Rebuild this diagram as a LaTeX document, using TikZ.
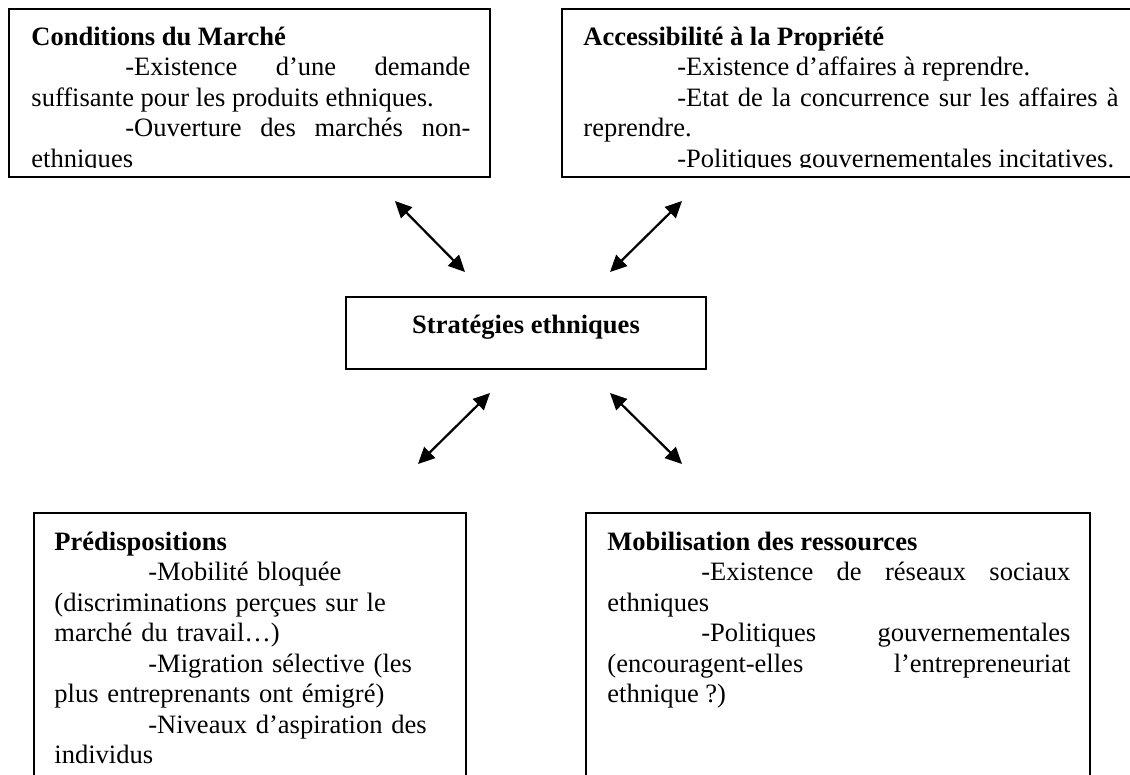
\documentclass[tikz,border=0pt]{standalone}
\usepackage{fontspec}
\setmainfont{Liberation Serif}
\usetikzlibrary{arrows.meta}
\hyphenpenalty=10000
\tolerance=9999
\hbadness=10000
\newcommand{\tabin}{\hspace*{42.5pt}}

\tikzset{
  boxframe/.style={draw, line width=0.8pt},
  txt/.style={anchor=north west, inner sep=0pt, align=justify,
    font=\fontsize{12}{13.8}\selectfont},
  link/.style={{Triangle[length=7.5pt,width=7pt]}-{Triangle[length=7.5pt,width=7pt]},
    line width=1pt}
}

\begin{document}
\begin{tikzpicture}[x=0.4525pt, y=-0.4525pt]
  \useasboundingbox (0,0) rectangle (1130,774);
  \clip (0,0) rectangle (1130,774);
  \fill[white] (0,0) rectangle (1130,774);

  % upper frames, their last line is cut by the text area
  \draw[boxframe] (9,9) rectangle (490,177);
  \begin{scope}
    \clip (9,9) rectangle (490,167);
    \node[txt, text width=198.6pt] (market) at (31,23.65) {\strut\textbf{Conditions du Marché}\par
      \tabin-Existence d’une demande\linebreak suffisante pour les produits ethniques.\par
      \tabin-Ouverture des marchés non-\linebreak ethniques};
  \end{scope}

  \draw[boxframe] (562,9) rectangle (1150,177);
  \begin{scope}
    \clip (562,9) rectangle (1150,167);
    \node[txt, text width=242.1pt] (property) at (583,23.65) {\strut\textbf{Accessibilité à la Propriété}\par
      \tabin-Existence d’affaires à reprendre.\par
      \tabin-Etat de la concurrence sur les affaires à\linebreak reprendre.\par
      \tabin-Politiques gouvernementales incitatives.};
  \end{scope}

  % centre
  \draw[boxframe] (346,297) rectangle (706,369);
  \node[anchor=base, inner sep=0pt, font=\fontsize{12}{13.8}\selectfont\bfseries] (strat) at (526,333) {Stratégies ethniques};

  % lower frames
  \draw[boxframe] (34,513) rectangle (466,800);
  \node[txt, align=left, text width=195pt] (predisp) at (54,528.65) {\strut\textbf{Prédispositions}\\
    \tabin-Mobilité bloquée\\
    (discriminations perçues sur le\\
    marché du travail…)\\
    \tabin-Migration sélective (les\\
    plus entreprenants ont émigré)\\
    \tabin-Niveaux d’aspiration des\\
    individus};

  \draw[boxframe] (586,513) rectangle (1090,800);
  \node[txt, text width=209.5pt] (resources) at (607,528.65) {\strut\textbf{Mobilisation des ressources}\par
    \tabin-Existence de réseaux sociaux\linebreak ethniques\par
    \tabin-Politiques gouvernementales\linebreak (encouragent-elles l’entrepreneuriat\linebreak ethnique ?)};

  % double arrows around the centre
  \coordinate (nwout) at (395,201);
  \coordinate (nwin)  at (465,272);
  \coordinate (neout) at (682,201);
  \coordinate (nein)  at (610,272);
  \coordinate (swin)  at (490,393);
  \coordinate (swout) at (418,464);
  \coordinate (sein)  at (610,393);
  \coordinate (seout) at (682,464);
  \foreach \p in {nw,ne,sw,se}
    \draw[link] (\p out) -- (\p in);
\end{tikzpicture}
\end{document}
